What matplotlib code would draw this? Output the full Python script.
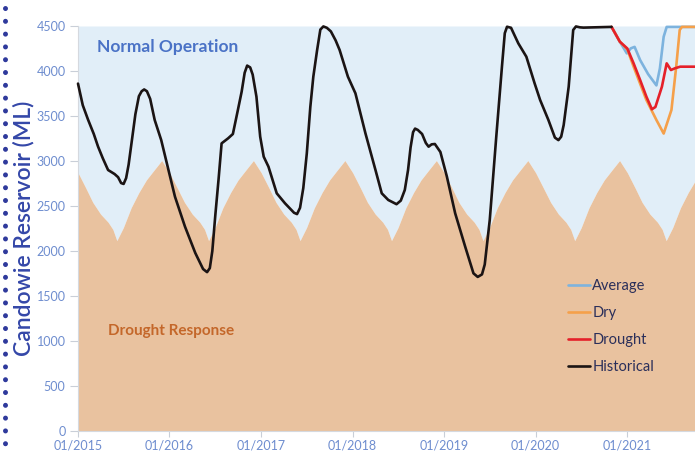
import matplotlib
matplotlib.use("Agg")
import matplotlib.pyplot as plt
from matplotlib.lines import Line2D
import pandas as pd
import numpy as np

# ---------------- data ----------------
hist_dates = ["2015-01-01", "2015-01-20", "2015-02-10", "2015-03-05", "2015-03-22", "2015-04-10",
              "2015-05-01", "2015-05-27", "2015-06-10", "2015-06-22", "2015-07-02", "2015-07-12",
              "2015-07-22", "2015-08-05", "2015-08-18", "2015-09-01", "2015-09-12", "2015-09-22",
              "2015-10-03", "2015-10-16", "2015-11-03", "2015-11-29", "2015-12-28", "2016-01-23",
              "2016-03-03", "2016-04-13", "2016-05-14", "2016-05-30", "2016-06-10", "2016-06-20",
              "2016-07-02", "2016-07-15", "2016-07-27", "2016-08-22", "2016-09-10", "2016-09-30",
              "2016-10-15", "2016-10-27", "2016-11-06", "2016-11-18", "2016-11-28", "2016-12-13",
              "2016-12-28", "2017-01-11", "2017-01-30", "2017-03-04", "2017-04-06", "2017-05-12",
              "2017-05-24", "2017-06-05", "2017-06-18", "2017-07-02", "2017-07-16", "2017-07-28",
              "2017-08-12", "2017-08-25", "2017-09-06", "2017-09-20", "2017-10-06", "2017-10-25",
              "2017-11-10", "2017-12-13", "2018-01-12", "2018-02-21", "2018-04-02", "2018-04-27",
              "2018-05-23", "2018-06-25", "2018-07-12", "2018-07-28", "2018-08-10", "2018-08-20",
              "2018-08-30", "2018-09-07", "2018-09-18", "2018-10-05", "2018-10-20", "2018-10-31",
              "2018-11-12", "2018-11-25", "2018-12-17", "2019-01-12", "2019-02-14", "2019-03-26",
              "2019-04-28", "2019-05-15", "2019-06-01", "2019-06-12", "2019-07-02", "2019-07-28",
              "2019-08-20", "2019-08-31", "2019-09-09", "2019-09-25", "2019-10-05", "2019-10-24",
              "2019-11-25", "2019-12-28", "2020-01-19", "2020-02-21", "2020-03-18", "2020-04-01",
              "2020-04-12", "2020-04-22", "2020-05-12", "2020-05-30", "2020-06-10", "2020-06-26",
              "2020-07-10", "2020-10-30"]
hist_vals = [3860, 3620, 3460, 3300, 3160, 3030,
             2900, 2855, 2820, 2755, 2745, 2810,
             2960, 3250, 3520, 3720, 3775, 3795,
             3775, 3690, 3456, 3233, 2900, 2603,
             2270, 1978, 1800, 1765, 1810, 2000,
             2400, 2800, 3196, 3252, 3300, 3567,
             3770, 3980, 4060, 4040, 3960, 3715,
             3270, 3048, 2937, 2641, 2530, 2425,
             2410, 2480, 2700, 3085, 3600, 3937,
             4230, 4460, 4495, 4480, 4440, 4340,
             4233, 3937, 3752, 3307, 2900, 2641,
             2567, 2520, 2560, 2678, 2900, 3150,
             3320, 3360, 3345, 3300, 3200, 3159,
             3185, 3189, 3100, 2826, 2419, 2048,
             1752, 1712, 1740, 1850, 2344, 3270,
             4060, 4420, 4492, 4480, 4420, 4307,
             4159, 3863, 3678, 3456, 3260, 3232,
             3270, 3400, 3826, 4456, 4495, 4485,
             4482, 4490]

drought_dates = ["2020-10-30", "2020-12-02", "2021-01-01", "2021-01-26", "2021-02-21", "2021-03-18",
                 "2021-04-09", "2021-04-23", "2021-05-19", "2021-06-07", "2021-06-24", "2021-07-10",
                 "2021-07-31", "2021-09-30"]
drought_vals = [4490, 4326, 4250, 4085, 3900, 3715,
                3575, 3600, 3826, 4085, 4011, 4030,
                4048, 4048]

dry_dates = ["2020-10-30", "2020-12-02", "2021-01-01", "2021-01-26", "2021-03-18", "2021-04-27",
             "2021-05-26", "2021-06-26", "2021-07-15", "2021-07-29", "2021-08-07", "2021-09-30"]
dry_vals = [4490, 4326, 4240, 4048, 3678, 3456,
            3305, 3567, 4048, 4456, 4490, 4490]

avg_dates = ["2020-10-30", "2020-12-02", "2020-12-30", "2021-01-15", "2021-01-30", "2021-02-21",
             "2021-03-25", "2021-04-27", "2021-05-11", "2021-05-26", "2021-06-07", "2021-09-30"]
avg_vals = [4490, 4326, 4196, 4252, 4268, 4122,
            3965, 3840, 4030, 4381, 4490, 4490]

# annual drought-response trigger curve (same every year)
trigger_monthday = ["01-01", "02-01", "03-01", "04-01", "05-01", "05-20", "06-05",
                    "07-01", "08-01", "09-01", "10-01", "11-01", "12-01"]
trigger_vals = [2870, 2700, 2540, 2410, 2320, 2240, 2115,
                2260, 2480, 2650, 2790, 2900, 3005]
trigger_years = [2015, 2016, 2017, 2018, 2019, 2020, 2021]

y_ticks = [0, 500, 1000, 1500, 2000, 2500, 3000, 3500, 4000, 4500]
x_tick_labels = ["01/2015", "01/2016", "01/2017", "01/2018", "01/2019", "01/2020", "01/2021"]

# ---------------- build ----------------
trig_d, trig_v = [], []
for yr in trigger_years:
    for md, v in zip(trigger_monthday, trigger_vals):
        trig_d.append(f"{yr}-{md}")
        trig_v.append(v)
trig_d.append(f"{trigger_years[-1] + 1}-{trigger_monthday[0]}")
trig_v.append(trigger_vals[0])
trig_d = pd.to_datetime(trig_d)
trig_v = np.array(trig_v)

plt.rcParams['font.family'] = ['Lato', 'DejaVu Sans']

fig = plt.figure(figsize=(6.95, 4.51), dpi=100)
L, R, T, B = 78, 695, 26, 431
ax = fig.add_axes([L / 695, 1 - B / 451, (R - L) / 695, (B - T) / 451])

c_blue_fill = "#e1eef8"
c_tan_fill = "#e9c29f"
ax.fill_between(trig_d, trig_v, 4500, color=c_blue_fill, lw=0, zorder=1)
ax.fill_between(trig_d, 0, trig_v, color=c_tan_fill, lw=0, zorder=1)

lw = 1.9
common = dict(lw=lw, solid_joinstyle='round', solid_capstyle='round', clip_on=False)
ax.plot(pd.to_datetime(avg_dates), avg_vals, color="#7db3de", zorder=3, label="Average", **common)
ax.plot(pd.to_datetime(dry_dates), dry_vals, color="#f5a04a", zorder=3, label="Dry", **common)
ax.plot(pd.to_datetime(drought_dates), drought_vals, color="#e5202a", zorder=4, label="Drought", **common)
ax.plot(pd.to_datetime(hist_dates), hist_vals, color="#1b1414", zorder=5, label="Historical", **common)

ax.set_xlim(pd.Timestamp("2015-01-01"), pd.Timestamp("2021-09-28"))
ax.set_ylim(0, 4500)
ax.set_yticks(y_ticks)
ax.set_yticklabels([str(v) for v in y_ticks])
ax.set_xticks(pd.to_datetime([f"{s[3:]}-01-01" for s in x_tick_labels]))
ax.set_xticklabels(x_tick_labels)

tick_col = "#6e8dcf"
ax.tick_params(axis='y', colors="#c9cfd8", labelcolor=tick_col, labelsize=9, length=6, pad=3)
ax.tick_params(axis='x', colors="#c9cfd8", labelcolor=tick_col, labelsize=9, length=4, pad=2)
for s in ["top", "right"]:
    ax.spines[s].set_visible(False)
for s in ["left", "bottom"]:
    ax.spines[s].set_color("#d5d9df")
    ax.spines[s].set_linewidth(0.8)
ax.set_facecolor("white")

ax.set_ylabel("Candowie Reservoir (ML)", fontsize=16.5, color="#3447a8", fontweight='semibold')
ax.yaxis.set_label_coords(-44 / 617, 0.5)

ax.text(0.031, 0.948, "Normal Operation", transform=ax.transAxes, fontsize=12.5,
        fontweight='bold', color="#4a72c6", va='center', ha='left', zorder=6)
ax.text(0.049, 0.247, "Drought Response", transform=ax.transAxes, fontsize=11,
        fontweight='bold', color="#c4672a", va='center', ha='left', zorder=6)

leg = ax.legend(loc='upper left', bbox_to_anchor=(0.785, 0.39), frameon=False,
                fontsize=10.5, labelspacing=0.9, handlelength=1.5, handletextpad=0.15,
                borderaxespad=0)
for t in leg.get_texts():
    t.set_color("#2b2f5a")

# decorative dotted border on the left
fig.add_artist(Line2D([5 / 695, 5 / 695], [1 - 8 / 451, 0], transform=fig.transFigure,
                      color="#2f3a9c", lw=3.6, linestyle=(0, (0.01, 2.55)),
                      dash_capstyle='round'))

fig.savefig("out.png", dpi=100)
